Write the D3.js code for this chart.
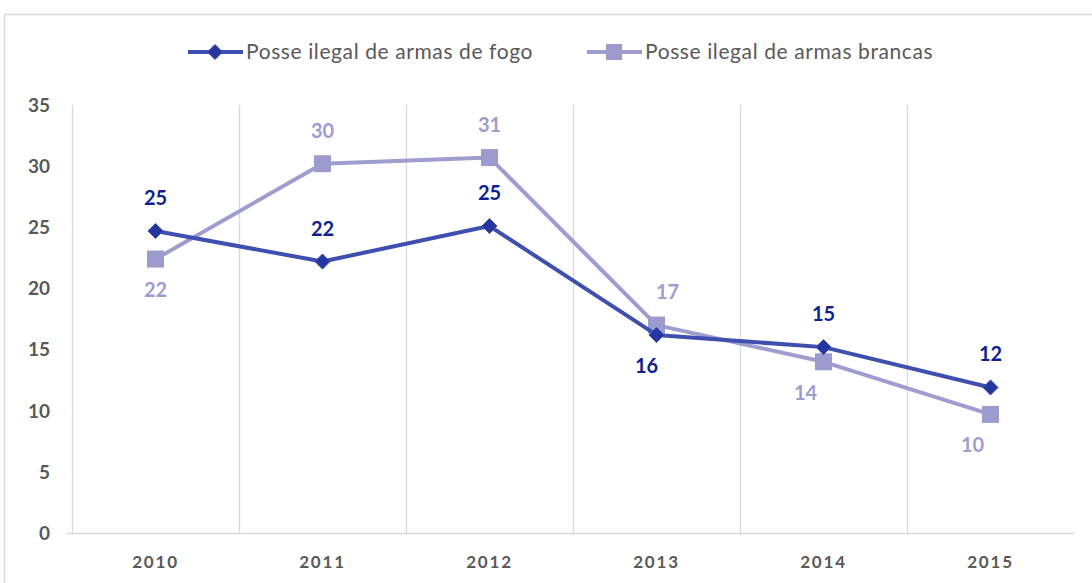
<!DOCTYPE html>
<html>
<head>
<meta charset="utf-8">
<script src="https://cdn.jsdelivr.net/npm/d3@7"></script>
<style>
  body { margin: 0; background: #fff; }
  text { font-family: Lato, "Open Sans", sans-serif; }
</style>
</head>
<body>
<div id="chart"></div>
<script>
// data
var years = ["2010", "2011", "2012", "2013", "2014", "2015"]
var fogo = [24.7, 22.2, 25.1, 16.2, 15.2, 11.9]
var brancas = [22.4, 30.2, 30.7, 17.0, 14.0, 9.7]
var fogoLabels = ["25", "22", "25", "16", "15", "12"]
var brancasLabels = ["22", "30", "31", "17", "14", "10"]
var fogoPlace = ["above", "above", "above", "below", "above", "above"]
var brancasPlace = ["below", "above", "above", "aboveright", "belowleft", "belowleft"]
var yTicks = [0, 5, 10, 15, 20, 25, 30, 35]
var seriesNames = ["Posse ilegal de armas de fogo", "Posse ilegal de armas brancas"]

var W = 1092, H = 583
var pLeft = 72, pRight = 1074, pTop = 105, pBottom = 533

var svg = d3.select("#chart").append("svg")
    .attr("width", W)
    .attr("height", H)

// outer chart border (cropped at right/bottom)
svg.append("rect")
    .attr("x", 4.5).attr("y", 14.5)
    .attr("width", 1200).attr("height", 700)
    .attr("fill", "none")
    .attr("stroke", "#d9d9d9")
    .attr("stroke-width", 1.5)

var x = d3.scaleBand().domain(years).range([pLeft, pRight])
var y = d3.scaleLinear().domain([0, 35]).range([pBottom, pTop])

// vertical gridlines between categories
var bounds = years.map(function(d){ return x(d) }).concat([pRight])
svg.selectAll(".vgrid").data(bounds.slice(1, -1))
    .enter().append("line")
    .attr("class", "vgrid")
    .attr("x1", function(d){ return Math.round(d) + 0.5 }).attr("x2", function(d){ return Math.round(d) + 0.5 })
    .attr("y1", pTop).attr("y2", pBottom)
    .attr("stroke", "#d9d9d9").attr("stroke-width", 1.3)

// axis lines
svg.append("line")
    .attr("x1", pLeft + 0.5).attr("x2", pLeft + 0.5)
    .attr("y1", pTop).attr("y2", pBottom)
    .attr("stroke", "#d9d9d9").attr("stroke-width", 1.3)
svg.append("line")
    .attr("x1", pLeft - 6).attr("x2", pRight)
    .attr("y1", pBottom + 0.5).attr("y2", pBottom + 0.5)
    .attr("stroke", "#d9d9d9").attr("stroke-width", 1.3)

// y tick labels
svg.selectAll(".ylab").data(yTicks)
    .enter().append("text")
    .attr("class", "ylab")
    .attr("x", 50)
    .attr("y", function(d){ return y(d) })
    .attr("dy", "0.36em")
    .attr("text-anchor", "end")
    .attr("font-weight", "bold")
    .attr("font-size", 19)
    .attr("fill", "#595959")
    .text(function(d){ return d })

// x tick labels
svg.selectAll(".xlab").data(years)
    .enter().append("text")
    .attr("class", "xlab")
    .attr("x", function(d){ return x(d) + x.bandwidth() / 2 })
    .attr("y", 568)
    .attr("text-anchor", "middle")
    .attr("font-weight", "bold")
    .attr("font-size", 17)
    .attr("letter-spacing", "1.8px")
    .attr("fill", "#595959")
    .text(function(d){ return d })

var cx = function(d, i){ return x(years[i]) + x.bandwidth() / 2 }
var line = d3.line().x(function(d, i){ return cx(d, i) }).y(function(d){ return y(d) })

var cFogo = "#3f4faf", cFogoMark = "#2436a0", cFogoLab = "#0f1f91"
var cBr = "#9d9dd0", cBrLab = "#9d9dd0"

// brancas series
svg.append("path").datum(brancas)
    .attr("d", line)
    .attr("fill", "none").attr("stroke", cBr).attr("stroke-width", 4)
    .attr("stroke-linejoin", "round")
svg.selectAll(".sq").data(brancas)
    .enter().append("rect")
    .attr("class", "sq")
    .attr("x", function(d, i){ return cx(d, i) - 8.5 })
    .attr("y", function(d){ return y(d) - 8.5 })
    .attr("width", 17).attr("height", 17)
    .attr("fill", "#9b9bcd")

// fogo series
svg.append("path").datum(fogo)
    .attr("d", line)
    .attr("fill", "none").attr("stroke", cFogo).attr("stroke-width", 4)
    .attr("stroke-linejoin", "round")
var diamond = d3.symbol().type(d3.symbolDiamond2).size(145)
svg.selectAll(".dm").data(fogo)
    .enter().append("path")
    .attr("class", "dm")
    .attr("d", diamond)
    .attr("transform", function(d, i){ return "translate(" + cx(d, i) + "," + y(d) + ")" })
    .attr("fill", cFogoMark)
    .attr("stroke", cFogo).attr("stroke-width", 1)

// data labels
function labPos(place, d, i){
    var px = cx(d, i), py = y(d)
    if (place == "above") return [px, py - 26]
    if (place == "aboveright") return [px + 11, py - 26]
    if (place == "below") return [px - 10, py + 38]
    if (place == "belowleft") return [px - 18, py + 38]
    return [px, py + 38]
}
svg.selectAll(".lf").data(fogo)
    .enter().append("text")
    .attr("class", "lf")
    .attr("x", function(d, i){ return labPos(fogoPlace[i], d, i)[0] })
    .attr("y", function(d, i){ return labPos(fogoPlace[i], d, i)[1] })
    .attr("text-anchor", "middle")
    .attr("font-weight", "bold").attr("font-size", 20)
    .attr("fill", cFogoLab)
    .text(function(d, i){ return fogoLabels[i] })
svg.selectAll(".lb").data(brancas)
    .enter().append("text")
    .attr("class", "lb")
    .attr("x", function(d, i){
        var p = labPos(brancasPlace[i], d, i)
        return brancasPlace[i] == "below" ? p[0] + 10 : p[0] })
    .attr("y", function(d, i){ return labPos(brancasPlace[i], d, i)[1] })
    .attr("text-anchor", "middle")
    .attr("font-weight", "bold").attr("font-size", 20)
    .attr("fill", cBrLab)
    .text(function(d, i){ return brancasLabels[i] })

// legend
var legX = [188, 587]
var lg = svg.selectAll(".leg").data(seriesNames)
    .enter().append("g")
    .attr("class", "leg")
    .attr("transform", function(d, i){ return "translate(" + legX[i] + ",52)" })
lg.append("line")
    .attr("x1", 0).attr("x2", 55).attr("y1", 0).attr("y2", 0)
    .attr("stroke", function(d, i){ return i == 0 ? cFogo : cBr })
    .attr("stroke-width", 4)
lg.filter(function(d, i){ return i == 0 }).append("path")
    .attr("d", diamond)
    .attr("transform", "translate(27,0)")
    .attr("fill", cFogoMark).attr("stroke", cFogo)
lg.filter(function(d, i){ return i == 1 }).append("rect")
    .attr("x", 19).attr("y", -8).attr("width", 16).attr("height", 16)
    .attr("fill", "#9b9bcd")
lg.append("text")
    .attr("x", 58).attr("y", 0).attr("dy", "0.35em")
    .attr("font-size", 21)
    .attr("letter-spacing", "0.6px")
    .attr("fill", "#595959")
    .text(function(d){ return d })
</script>
</body>
</html>
